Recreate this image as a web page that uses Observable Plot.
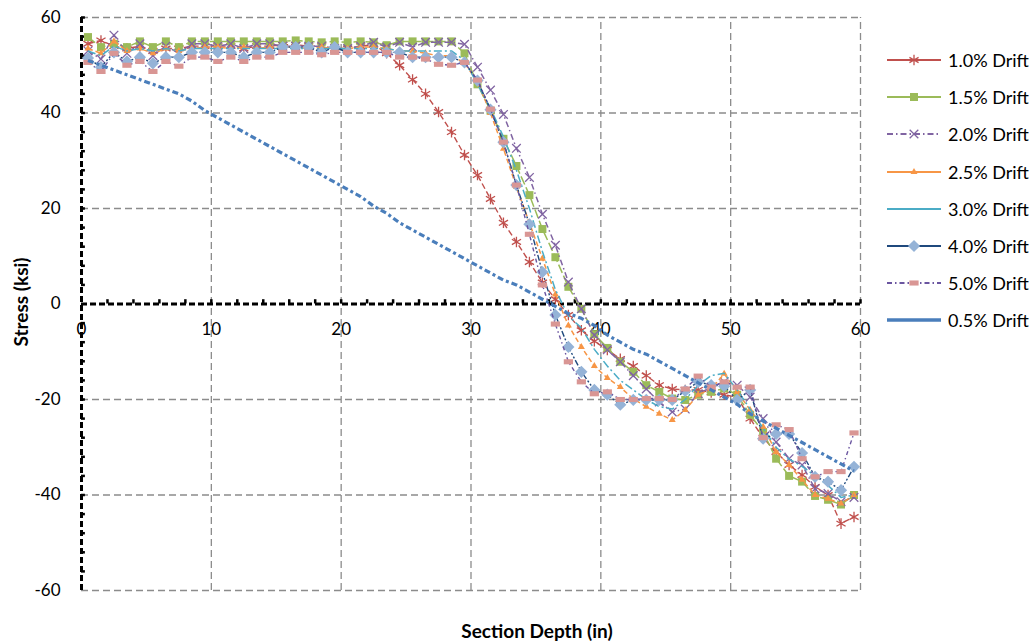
<!DOCTYPE html>
<html>
<head>
<meta charset="utf-8">
<script src="https://cdn.jsdelivr.net/npm/d3@7"></script>
<script src="https://cdn.jsdelivr.net/npm/@observablehq/plot@0.6"></script>
<style>
  html, body { margin: 0; padding: 0; background: #fff; }
  body { width: 1034px; height: 644px; position: relative; overflow: hidden; font-family: Lato, "Open Sans", sans-serif; }
  #chart { position: absolute; left: 0; top: 0; }
  .ytitle { position: absolute; left: 20px; top: 302px; transform: translate(-50%, -50%) rotate(-90deg); font-weight: bold; font-size: 19px; color: #000; white-space: nowrap; }
  .xtitle { position: absolute; left: 537px; top: 630px; transform: translate(-50%, -50%); font-weight: bold; font-size: 19px; color: #000; white-space: nowrap; }
  #legend { position: absolute; left: 885px; top: 0; }
  .item { position: absolute; left: 0; height: 20px; display: flex; align-items: center; white-space: nowrap; font-size: 18px; color: #000; }
  .item svg { margin-right: 5px; }
</style>
</head>
<body>
<div id="chart"></div>
<div class="ytitle">Stress (ksi)</div>
<div class="xtitle">Section Depth (in)</div>
<div id="legend"></div>
<script>
const depth = [0.5,1.5,2.5,3.5,4.5,5.5,6.5,7.5,8.5,9.5,10.5,11.5,12.5,13.5,14.5,15.5,16.5,17.5,18.5,19.5,20.5,21.5,22.5,23.5,24.5,25.5,26.5,27.5,28.5,29.5,30.5,31.5,32.5,33.5,34.5,35.5,36.5,37.5,38.5,39.5,40.5,41.5,42.5,43.5,44.5,45.5,46.5,47.5,48.5,49.5,50.5,51.5,52.5,53.5,54.5,55.5,56.5,57.5,58.5,59.5];

const drift10 = [54.5,55.2,54,53.5,54,53,53.5,53.5,54,54,
  54,54,53.5,54,54,54.3,54.3,54,54,53.5,
  53.5,54,54.3,52.5,50,47,44,40.2,36,31.2,
  27,22,17,13,8.8,4.5,1,-2.3,-5.5,-7.8,
  -9.6,-11.5,-13,-15,-17,-17.8,-18,-18,-18.5,-19,
  -19.5,-24,-28,-31,-33.7,-35.8,-38.3,-40,-46,-44.6];

const drift15 = [55.9,53.8,54.5,53.8,55,53.8,55,53.8,55,55,
  55,55,55,55,55,55,55.2,55,54.8,55,
  54.8,55,54.8,54.2,55,55,55,55,55,52.5,
  46,40.5,34.6,28.9,22.8,15.7,9.8,3.6,-1,-6.3,
  -9.2,-12.1,-14.2,-17,-18.4,-19.8,-20.1,-19,-18.4,-17.7,
  -19,-23.2,-26.8,-32.4,-36,-37.2,-40.2,-41,-42,-40];

const drift20 = [53,51.3,56.3,52.5,54.5,52,54,52.5,54.5,54.5,
  54,54.5,53.5,54.5,54.5,54,54,54,54,53.5,
  53.5,54,54.8,53.8,54.8,53.8,54.8,54.8,54.8,54.4,
  49.6,44.8,39.7,32.6,26.5,18.8,12.3,4.6,-1,-6.5,
  -9.6,-12.1,-15,-17.8,-20.5,-22.6,-22,-18.8,-17.4,-16.3,
  -17,-19.5,-24,-28.9,-32.4,-33.7,-38.7,-39.7,-41.4,-40.5];

const drift25 = [53.5,52.5,55,53,53.5,52.5,53.5,53,53.5,53.8,
  53.8,53.5,53.8,53.5,53.8,53.8,53.8,53.5,53.8,53.5,
  53.5,53.8,53.8,53.5,53,53,52.5,52,52,50.5,
  46.5,40,32.5,24.5,17,9.5,2,-4.5,-9,-13,
  -15.5,-17.4,-19.9,-21.5,-23,-24.3,-22.2,-19,-17.8,-14.6,
  -18.4,-22.2,-25.7,-31,-33.7,-36.8,-40,-40.8,-41.8,-40];

const drift30 = [53,52,54,53,53.5,53,53.5,53,53.5,53.5,
  53.5,53.5,53.5,53.5,53.5,53.5,53.5,53.5,53.5,53.5,
  53.5,53.5,53.5,53.5,53,53,53,53,53,51,
  46,41,35,28,20,11,3,-2.5,-5,-9.5,
  -13,-16,-18,-20,-21.5,-22,-20,-17,-15,-14.5,
  -18,-22,-26,-30,-32.5,-34,-36,-38,-40.5,-40];

const drift40 = [51.5,49.6,52.7,50.8,51.7,50.4,51.7,51.7,52.7,52.7,
  52.7,52.7,51.7,52.7,52.7,53.8,53.8,53.8,52.7,53.8,
  52.7,52.7,52.7,52.7,52.7,51.7,51.7,51.7,51.7,50.6,
  46.8,40.7,33.9,24.9,16.7,6.7,-2.3,-9,-14.2,-18,
  -19,-21.1,-20.1,-20.1,-20.1,-20.1,-18.2,-16.3,-17,-17.2,
  -20.1,-18,-28.2,-27.2,-27.2,-31.2,-36.2,-37.2,-39,-34.1];

const drift50 = [50.6,48.7,52.5,50,50.8,48.7,50.8,49.8,51.7,51.7,
  50.8,51.7,50.8,51.7,51.7,52.7,52.7,52.7,52.2,52.7,
  52.7,52.7,52.7,52.7,51.7,51.7,51.3,50.2,50,50.6,
  46.9,40.8,33.9,24.9,14.6,4,-4.2,-12.1,-16.3,-18.8,
  -18.4,-20,-20,-19.8,-19.8,-20,-17.8,-15.1,-17.4,-16.3,
  -17.4,-17.4,-28,-25.3,-26.3,-32.4,-36.2,-35.1,-35.1,-27];

const drift05 = [51,50,49,48,47,46,45,44,42.5,40.5,
  39,37.5,36,34.5,33,31.5,30,28.5,27,25.5,
  24,22.5,20.5,19,17,15.5,14,12.5,11,9.5,
  8,6.5,5,4,2.5,1,-0.5,-2,-3,-4.5,
  -6.5,-8,-9.5,-10.5,-12,-13.5,-15,-16.5,-18,-19.5,
  -21,-23,-24.5,-26,-27.5,-29,-30.5,-32,-33.5,-35];

const xTicks = [0,10,20,30,40,50,60];
const yTicks = [-60,-40,-20,0,20,40,60];
const xGrid = [10,20,30,40,50,60];
const yGrid = [-60,-40,-20,20,40,60];
const xMinor = [2,4,6,8,10,12,14,16,18,20,22,24,26,28,30,32,34,36,38,40,42,44,46,48,50,52,54,56,58,60];
const yMinor = [-56,-52,-48,-44,-40,-36,-32,-28,-24,-20,-16,-12,-8,-4,4,8,12,16,20,24,28,32,36,40,44,48,52,56,60];

// custom rectangle marker (Excel-like short bar)
const rectSymbol = { draw(ctx, size) { const s = Math.sqrt(size); const w = s * 1.3, h = s * 0.72; ctx.rect(-w/2, -h/2, w, h); } };

const series = [
  { name: "1.0% Drift", values: drift10, line: "#C0504D", dash: "6,3", width: 1.4, symbol: "asterisk", r: 5, mfill: "none", mstroke: "#C0504D", legendDash: null },
  { name: "1.5% Drift", values: drift15, line: "#9BBB59", dash: "9,3", width: 1.5, symbol: "square", r: 4.5, mfill: "#9BBB59", mstroke: "none", legendDash: null },
  { name: "2.0% Drift", values: drift20, line: "#8064A2", dash: "6,3,1.5,3", width: 1.5, symbol: "times", r: 4, mfill: "none", mstroke: "#8064A2", legendDash: "6,3,1.5,3" },
  { name: "2.5% Drift", values: drift25, line: "#F79646", dash: "5,3", width: 1.5, symbol: "triangle", r: 2.6, mfill: "#F79646", mstroke: "none", legendDash: null },
  { name: "3.0% Drift", values: drift30, line: "#4BACC6", dash: "8,3,2,3", width: 1.5, symbol: null, legendDash: null },
  { name: "4.0% Drift", values: drift40, line: "#1F497D", dash: "6,2,2,2,2,2", width: 1.4, symbol: "diamond2", r: 5.5, mfill: "#95B3D7", mstroke: "none", legendDash: null },
  { name: "5.0% Drift", values: drift50, line: "#6A55A0", dash: "4,3,1.5,3", width: 1.4, symbol: rectSymbol, r: 4, mfill: "#D99694", mstroke: "none", legendDash: "5,3,1.5,3" },
  { name: "0.5% Drift", values: drift05, line: "#4A7EBB", dash: "6,3,3,3", width: 3.2, symbol: null, legendDash: null }
];

const gridColor = "#8C8C8C";
const marks = [
  Plot.ruleX(xGrid, { x: d => d, y1: -60, y2: 60, stroke: gridColor, strokeWidth: 1.3, strokeDasharray: "7,4", strokeLinecap: "butt" }),
  Plot.ruleY(yGrid, { y: d => d, x1: 0, x2: 60, stroke: gridColor, strokeWidth: 1.3, strokeDasharray: "7,4", strokeLinecap: "butt" }),
  Plot.ruleX([0], { x: d => d, y1: -60, y2: 60, stroke: "#000", strokeWidth: 3, strokeDasharray: "6,3", strokeLinecap: "butt" }),
  Plot.ruleY([0], { y: d => d, x1: 0, x2: 60, stroke: "#000", strokeWidth: 3, strokeDasharray: "6,3", strokeLinecap: "butt" }),
  // small tick marks on the black axes
  Plot.ruleX(xMinor, { x: d => d, y1: 0, y2: 0.9, stroke: "#000", strokeWidth: 2.5, strokeLinecap: "butt" }),
  Plot.ruleY(yMinor, { y: d => d, x1: 0, x2: 0.3, stroke: "#000", strokeWidth: 2.5, strokeLinecap: "butt" }),
  Plot.axisY({ ticks: yTicks, tickSize: 0, tickPadding: 21, tickFormat: d => String(d), fontSize: 17, label: null, fill: "#000" }),
  Plot.text(xTicks, { x: d => d, y: 0, text: d => String(d), dy: 26, fontSize: 17, fill: "#000" })
];

for (const s of series) {
  const data = depth.map((x, i) => ({ x, y: s.values[i] }));
  marks.push(Plot.line(data, { x: "x", y: "y", stroke: s.line, strokeWidth: s.width, strokeDasharray: s.dash, strokeLinecap: "butt", strokeLinejoin: "round", curve: "linear" }));
  if (s.symbol) {
    marks.push(Plot.dot(data, { x: "x", y: "y", symbol: () => s.symbol, r: s.r, fill: s.mfill, stroke: s.mstroke, strokeWidth: 1.3 }));
  }
}

const chart = Plot.plot({
  width: 875,
  height: 600,
  marginLeft: 81,
  marginRight: 15,
  marginTop: 17,
  marginBottom: 10,
  x: { domain: [0, 60], axis: null },
  y: { domain: [-60, 60], axis: null },
  symbol: { type: "identity" },
  style: { fontFamily: "Lato, 'Open Sans', sans-serif", fontSize: "17px", background: "white", overflow: "visible", color: "#000" },
  marks
});
document.getElementById("chart").appendChild(chart);

// Legend
const legend = document.getElementById("legend");
series.forEach((s, i) => {
  const item = document.createElement("div");
  item.className = "item";
  item.style.top = (60 + i * 37.2 - 10) + "px";
  const svg = d3.create("svg").attr("width", 58).attr("height", 20);
  svg.append("line").attr("x1", 2).attr("x2", 56).attr("y1", 10).attr("y2", 10)
    .attr("stroke", s.line).attr("stroke-width", s.name === "0.5% Drift" ? 3.5 : 1.8)
    .attr("stroke-dasharray", s.legendDash);
  if (s.symbol) {
    const type = typeof s.symbol === "string"
      ? ({ asterisk: d3.symbolAsterisk, square: d3.symbolSquare, times: d3.symbolTimes, triangle: d3.symbolTriangle, diamond2: d3.symbolDiamond2 })[s.symbol]
      : s.symbol;
    const size = Math.PI * s.r * s.r;
    svg.append("path").attr("transform", "translate(29,10)")
      .attr("d", d3.symbol(type, size)())
      .attr("fill", s.mfill).attr("stroke", s.mstroke).attr("stroke-width", 1.3);
  }
  item.appendChild(svg.node());
  const t = document.createElement("span");
  t.textContent = s.name;
  item.appendChild(t);
  legend.appendChild(item);
});
</script>
</body>
</html>
